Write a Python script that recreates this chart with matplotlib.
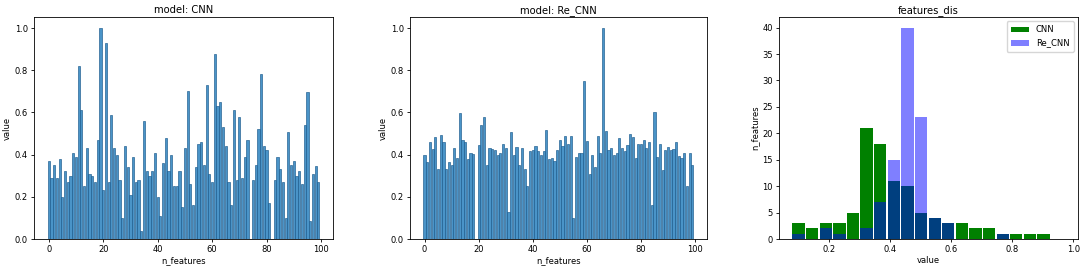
import matplotlib
matplotlib.use("Agg")
import matplotlib.pyplot as plt
import numpy as np

# per-feature values, model CNN (feature 0..99)
cnn_values = [
    0.37, 0.29, 0.35, 0.29, 0.38, 0.20, 0.32, 0.27, 0.30, 0.41,
    0.39, 0.82, 0.61, 0.25, 0.43, 0.31, 0.30, 0.27, 0.47, 1.00,
    0.23, 0.93, 0.27, 0.59, 0.43, 0.40, 0.28, 0.10, 0.44, 0.34,
    0.21, 0.39, 0.27, 0.28, 0.04, 0.56, 0.32, 0.30, 0.32, 0.41,
    0.20, 0.11, 0.36, 0.48, 0.32, 0.40, 0.25, 0.25, 0.32, 0.15,
    0.43, 0.70, 0.26, 0.16, 0.34, 0.45, 0.46, 0.35, 0.73, 0.31,
    0.27, 0.875, 0.63, 0.65, 0.53, 0.44, 0.27, 0.16, 0.61, 0.28,
    0.58, 0.29, 0.39, 0.47, 0.00, 0.28, 0.35, 0.52, 0.78, 0.44,
    0.42, 0.17, 0.00, 0.28, 0.39, 0.33, 0.27, 0.10, 0.505, 0.35,
    0.37, 0.30, 0.32, 0.26, 0.54, 0.695, 0.085, 0.31, 0.345, 0.27,
]

# per-feature values, model Re_CNN
re_cnn_values = [
    0.40, 0.365, 0.46, 0.425, 0.485, 0.33, 0.495, 0.46, 0.33, 0.365,
    0.35, 0.43, 0.385, 0.595, 0.47, 0.46, 0.38, 0.41, 0.405, 0.00,
    0.445, 0.54, 0.58, 0.35, 0.43, 0.425, 0.42, 0.40, 0.41, 0.45,
    0.43, 0.13, 0.505, 0.40, 0.435, 0.35, 0.43, 0.33, 0.25, 0.415,
    0.42, 0.44, 0.415, 0.40, 0.415, 0.515, 0.38, 0.385, 0.37, 0.42,
    0.47, 0.44, 0.49, 0.45, 0.49, 0.10, 0.39, 0.41, 0.41, 0.75,
    0.465, 0.31, 0.40, 0.34, 0.49, 0.41, 1.00, 0.51, 0.42, 0.43,
    0.40, 0.41, 0.48, 0.43, 0.415, 0.445, 0.50, 0.485, 0.385, 0.45,
    0.45, 0.47, 0.43, 0.46, 0.16, 0.60, 0.39, 0.45, 0.325, 0.42,
    0.435, 0.42, 0.425, 0.46, 0.395, 0.385, 0.41, 0.25, 0.41, 0.35,
]

# histogram (features_dis): 20 bins, counts per bin
bin_edges = np.linspace(0.077, 0.969, 21)
cnn_counts = [3, 2, 3, 3, 5, 21, 18, 11, 10, 5, 4, 3, 3, 2, 2, 1, 1, 1, 1, 0]
re_cnn_counts = [1, 0, 2, 1, 0, 2, 7, 15, 40, 23, 4, 3, 0, 0, 0, 1, 0, 0, 0, 0]

plt.rcParams['font.family'] = 'DejaVu Sans'
plt.rcParams['axes.linewidth'] = 0.6
plt.rcParams['xtick.major.width'] = 0.6
plt.rcParams['ytick.major.width'] = 0.6
plt.rcParams['xtick.major.size'] = 2.5
plt.rcParams['ytick.major.size'] = 2.5
plt.rcParams['xtick.major.pad'] = 2
plt.rcParams['ytick.major.pad'] = 2

tick_fs = 6
label_fs = 6
title_fs = 7.2

fig = plt.figure(figsize=(10.84, 2.73), dpi=100)
ax1 = fig.add_axes([0.0314, 0.1245, 0.2758, 0.813])
ax2 = fig.add_axes([0.3782, 0.1245, 0.2740, 0.813])
ax3 = fig.add_axes([0.7186, 0.1245, 0.2758, 0.813])

features = np.arange(len(cnn_values))
for ax, vals, name in [(ax1, cnn_values, 'CNN'), (ax2, re_cnn_values, 'Re_CNN')]:
    ax.bar(features, vals, width=0.8, color='#4a94c8', edgecolor='#1b5a8c', linewidth=0.45)
    ax.set_title(f'model: {name}', fontsize=title_fs, pad=3)
    ax.set_xlabel('n_features', fontsize=label_fs, labelpad=1.5)
    ax.set_ylabel('value', fontsize=label_fs, labelpad=2)
    ax.set_ylim(0, 1.052)
    ax.set_xticks([0, 20, 40, 60, 80, 100])
    ax.tick_params(labelsize=tick_fs)

# histogram panel
centers = (bin_edges[:-1] + bin_edges[1:]) / 2
bw = bin_edges[1] - bin_edges[0]
ax3.bar(centers, cnn_counts, width=bw * 0.9, color='green', label='CNN')
ax3.bar(centers, re_cnn_counts, width=bw * 0.9, color='blue', alpha=0.5, label='Re_CNN')
ax3.set_title('features_dis', fontsize=title_fs, pad=3)
ax3.set_xlabel('value', fontsize=label_fs, labelpad=1.5)
ax3.set_ylabel('n_features', fontsize=label_fs, labelpad=2)
ax3.set_xlim(0.035, 1.015)
ax3.set_ylim(0, 42)
ax3.set_xticks([0.2, 0.4, 0.6, 0.8, 1.0])
ax3.set_yticks(range(0, 41, 5))
ax3.tick_params(labelsize=tick_fs)
ax3.legend(loc='upper right', fontsize=6, handlelength=2.2, borderpad=0.5)

plt.savefig('out.png', dpi=100)
plt.close()
